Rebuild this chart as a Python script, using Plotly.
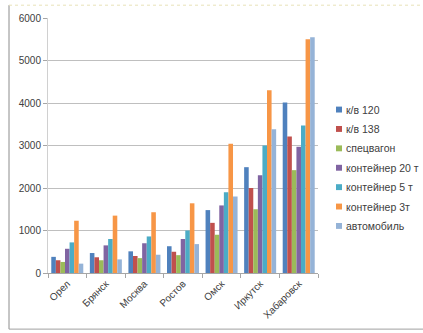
import plotly.graph_objects as go

# Cities along the horizontal axis
cities = ["Орел", "Брянск", "Москва", "Ростов", "Омск", "Иркутск", "Хабаровск"]

# Transport options (one bar series each)
series_names = ["к/в 120", "к/в 138", "спецвагон", "контейнер 20 т",
                "контейнер 5 т", "контейнер 3т", "автомобиль"]

kv120 = [380, 470, 510, 630, 1480, 2490, 4010]
kv138 = [300, 370, 400, 500, 1180, 2000, 3210]
specvagon = [260, 300, 350, 420, 900, 1500, 2420]
cont20 = [570, 650, 700, 800, 1590, 2300, 2970]
cont5 = [720, 800, 860, 1000, 1900, 3000, 3470]
cont3 = [1230, 1350, 1430, 1640, 3040, 4300, 5500]
avto = [220, 320, 430, 680, 1800, 3380, 5550]

y_ticks = [0, 1000, 2000, 3000, 4000, 5000, 6000]

series_values = [kv120, kv138, specvagon, cont20, cont5, cont3, avto]
colors = ["#4F81BD", "#C0504D", "#9BBB59", "#8064A2", "#4BACC6", "#F79646", "#95B3D7"]

W, H = 423, 333
ML, MR, MT, MB = 48, 105, 15, 59
plot_w = W - ML - MR
plot_h = H - MT - MB


def px_x(px):
    return (px - ML) / plot_w


def px_y(py):
    return (H - MB - py) / plot_h


fig = go.Figure()
for name, vals, col in zip(series_names, series_values, colors):
    fig.add_trace(go.Bar(
        x=cities, y=vals, name=name,
        marker=dict(color=col, line=dict(width=0)),
        showlegend=False,
    ))

text_font = dict(family="Liberation Sans, Arial, sans-serif", size=10, color="#595959")

shapes = []
annotations = []

# Legend: small square swatch followed by the series name
for i, (name, col) in enumerate(zip(series_names, colors)):
    cy = 108 + i * 19.7
    shapes.append(dict(type="rect", xref="paper", yref="paper",
                       x0=px_x(336), x1=px_x(342), y0=px_y(cy + 3), y1=px_y(cy - 3),
                       fillcolor=col, line=dict(width=0)))
    annotations.append(dict(text=name, xref="paper", yref="paper",
                            x=px_x(343.5), y=px_y(cy), xanchor="left", yanchor="middle",
                            showarrow=False, font=dict(family=text_font["family"], size=10.5, color="#404040")))

# Chart-area frame
shapes.append(dict(type="line", xref="paper", yref="paper",
                   x0=px_x(9), x1=px_x(9), y0=px_y(2), y1=px_y(331),
                   line=dict(color="#8C8C8C", width=1)))
shapes.append(dict(type="line", xref="paper", yref="paper",
                   x0=px_x(9), x1=px_x(423), y0=px_y(331), y1=px_y(331),
                   line=dict(color="#A0A0A0", width=1)))
shapes.append(dict(type="line", xref="paper", yref="paper",
                   x0=px_x(9), x1=px_x(423), y0=px_y(2), y1=px_y(2),
                   line=dict(color="#E8E2B8", width=1, dash="dot")))

fig.update_layout(
    width=W, height=H,
    margin=dict(l=ML, r=MR, t=MT, b=MB, pad=0),
    paper_bgcolor="white", plot_bgcolor="white",
    barmode="group", bargap=0.17, bargroupgap=0,
    font=text_font,
    shapes=shapes, annotations=annotations,
    showlegend=False,
)

fig.update_xaxes(
    type="category", tickangle=-45,
    showline=True, linecolor="#A6A6A6", linewidth=1,
    ticks="outside", tickson="boundaries", ticklen=4, tickcolor="#A6A6A6",
    showgrid=False, tickfont=dict(size=10, color="#404040"),
)
fig.update_yaxes(
    range=[0, 6000], tickvals=y_ticks,
    showline=True, linecolor="#D0D0D0", linewidth=1,
    ticks="outside", ticklen=4, tickcolor="#A6A6A6",
    showgrid=True, gridcolor="#BFBFBF", gridwidth=1,
    zeroline=False, tickfont=dict(size=10, color="#404040"),
)

fig.write_html("out.html")
